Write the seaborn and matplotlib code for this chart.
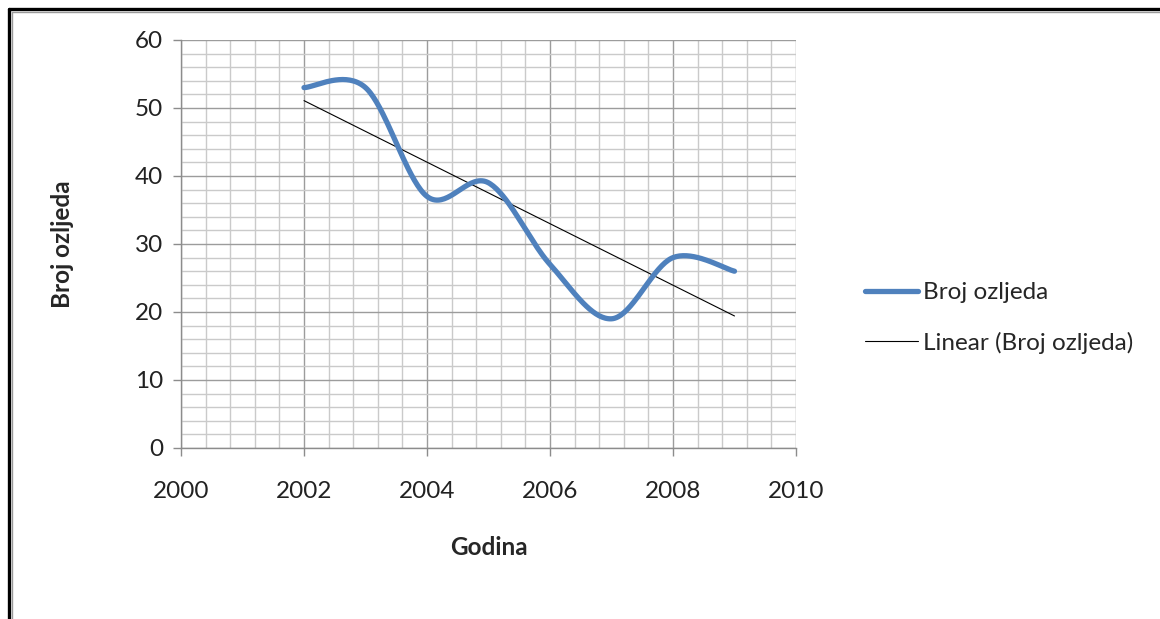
import numpy as np
import pandas as pd
import matplotlib
matplotlib.use("Agg")
import matplotlib.pyplot as plt
from matplotlib.lines import Line2D
from matplotlib.ticker import MultipleLocator
import seaborn as sns

# data
godina = [2002, 2003, 2004, 2005, 2006, 2007, 2008, 2009]
broj_ozljeda = [53, 53, 37, 39, 27, 19, 28, 26]


def excel_smooth(x, y, steps=40):
    # Excel style smoothed line: cubic bezier with catmull-rom control points
    x = np.asarray(x, float)
    y = np.asarray(y, float)
    n = len(x)
    xs, ys = [], []
    for i in range(n - 1):
        p0 = np.array([x[i], y[i]])
        p3 = np.array([x[i + 1], y[i + 1]])
        prev = np.array([x[i - 1], y[i - 1]]) if i > 0 else p0
        nxt = np.array([x[i + 2], y[i + 2]]) if i + 2 < n else p3
        c1 = p0 + (p3 - prev) / 6
        c2 = p3 - (nxt - p0) / 6
        t = np.linspace(0, 1, steps)[:, None]
        pts = (1 - t) ** 3 * p0 + 3 * (1 - t) ** 2 * t * c1 + 3 * (1 - t) * t ** 2 * c2 + t ** 3 * p3
        xs.extend(pts[:, 0])
        ys.extend(pts[:, 1])
    return np.array(xs), np.array(ys)


sns.set_theme(style="white")
plt.rcParams["font.family"] = ["Lato", "DejaVu Sans"]
fs = 17.5

fig = plt.figure(figsize=(11.6, 6.19), dpi=100)
ax = fig.add_axes([181 / 1160, 1 - 448 / 619, 615 / 1160, 408 / 619])

sx, sy = excel_smooth(godina, broj_ozljeda)
smooth = pd.DataFrame({"x": sx, "y": sy})
sns.lineplot(ax=ax, data=smooth, x="x", y="y", sort=False, color="#4F81BD",
             linewidth=3.8, solid_capstyle="round", label="Broj ozljeda", zorder=4)

# linear trend
k, b = np.polyfit(godina, broj_ozljeda, 1)
trend = pd.DataFrame({"x": [godina[0], godina[-1]]})
trend["y"] = k * trend["x"] + b
sns.lineplot(ax=ax, data=trend, x="x", y="y", color="black", linewidth=0.8,
             label="Linear (Broj ozljeda)", zorder=3)

ax.set_xlim(2000, 2010)
ax.set_ylim(0, 60)
ax.xaxis.set_major_locator(MultipleLocator(2))
ax.xaxis.set_minor_locator(MultipleLocator(0.4))
ax.yaxis.set_major_locator(MultipleLocator(10))
ax.yaxis.set_minor_locator(MultipleLocator(2))
ax.grid(which="major", color="#9c9c9c", linewidth=1.0)
ax.grid(which="minor", color="#cacaca", linewidth=1.0)
ax.set_axisbelow(True)

for side in ["top", "right"]:
    ax.spines[side].set_visible(False)
for side in ["left", "bottom"]:
    ax.spines[side].set_color("#8c8c8c")
    ax.spines[side].set_linewidth(1.0)

ax.tick_params(which="major", direction="out", length=6, width=1, color="#8c8c8c",
               labelsize=fs, labelcolor="#222222", left=True, bottom=True)
ax.tick_params(which="minor", length=0)
ax.tick_params(axis="x", pad=18)
ax.tick_params(axis="y", pad=7)

ax.set_xlabel("Godina", fontsize=fs, fontweight="bold", labelpad=24)
ax.set_ylabel("Broj ozljeda", fontsize=fs, fontweight="bold", labelpad=44)

ax.legend(loc="center left", bbox_to_anchor=(843 / 1160, 1 - 318 / 619),
          bbox_transform=fig.transFigure, frameon=False, fontsize=fs,
          handlelength=2.2, handletextpad=0.2, labelspacing=1.15)

# outer frame (left and top edges)
fig.add_artist(Line2D([9 / 1160, 9 / 1160], [0, 1 - 9 / 619], transform=fig.transFigure,
                      color="black", linewidth=2.4))
fig.add_artist(Line2D([9 / 1160, 1], [1 - 9 / 619, 1 - 9 / 619], transform=fig.transFigure,
                      color="black", linewidth=2.4))
fig.add_artist(Line2D([12 / 1160, 12 / 1160], [0, 1 - 12 / 619], transform=fig.transFigure,
                      color="#9a9a9a", linewidth=1.0))
fig.add_artist(Line2D([12 / 1160, 1], [1 - 12 / 619, 1 - 12 / 619], transform=fig.transFigure,
                      color="#9a9a9a", linewidth=1.0))

fig.savefig("out.png", dpi=100)
